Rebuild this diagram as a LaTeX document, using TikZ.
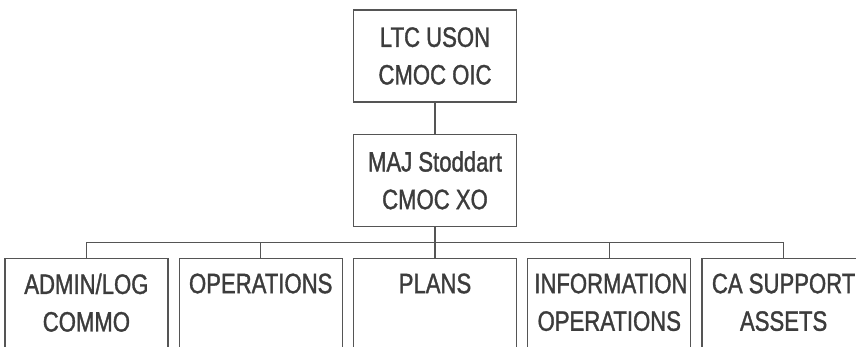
\documentclass[tikz,border=0pt]{standalone}
\usepackage{fontspec}
\newfontfamily\chartfont{Liberation Sans}[FakeStretch=0.79,FakeBold=1.2]
\usetikzlibrary{positioning,calc}

\definecolor{inkgray}{HTML}{555555}
\definecolor{txtgray}{HTML}{3C3C3C}

\newcommand{\stafftext}[1]{\parbox[t][92pt][t]{150pt}{\centering #1}}

\begin{document}
\begin{tikzpicture}[
    x=1pt, y=1pt,
    node distance=31pt and 10pt,
    box/.style   ={draw=inkgray,line width=1.3pt,minimum width=163pt,minimum height=92pt,
                   align=center,text=txtgray,
                   font=\chartfont\fontsize{28}{37.6}\selectfont},
    staffbox/.style={box,minimum height=0pt,inner xsep=6.5pt,inner ysep=15pt},
    link/.style  ={draw=inkgray,line width=1.3pt}
]
\useasboundingbox (0,0) rectangle (856,-346);
\clip (0,0) rectangle (856,-346);
\fill[white] (0,0) rectangle (856,-346);

\node[box] (oic) at (435,-56) {LTC USON\\CMOC OIC};
\node[box, below=of oic] (xo) {MAJ Stoddart\\CMOC XO};

\node[staffbox, below=of xo]     (plans) {\stafftext{PLANS}};
\node[staffbox, left=of plans]   (ops)   {\stafftext{OPERATIONS}};
\node[staffbox, left=of ops]     (admin) {\stafftext{ADMIN/LOG\\COMMO}};
\node[staffbox, right=of plans]  (info)  {\stafftext{INFORMATION\\OPERATIONS}};
\node[staffbox, right=of info]   (ca)    {\stafftext{CA SUPPORT\\ASSETS}};

% reporting lines
\coordinate (bus) at ($(xo.south)!0.5!(plans.north)$);
\draw[link] (oic) -- (xo);
\draw[link] (xo.south) -- (plans.north);
\draw[link] (admin.north) |- (bus) -| (ca.north);
\foreach \unit in {ops,info}
    \draw[link] (\unit.north) -- (\unit.north |- bus);

\end{tikzpicture}
\end{document}
